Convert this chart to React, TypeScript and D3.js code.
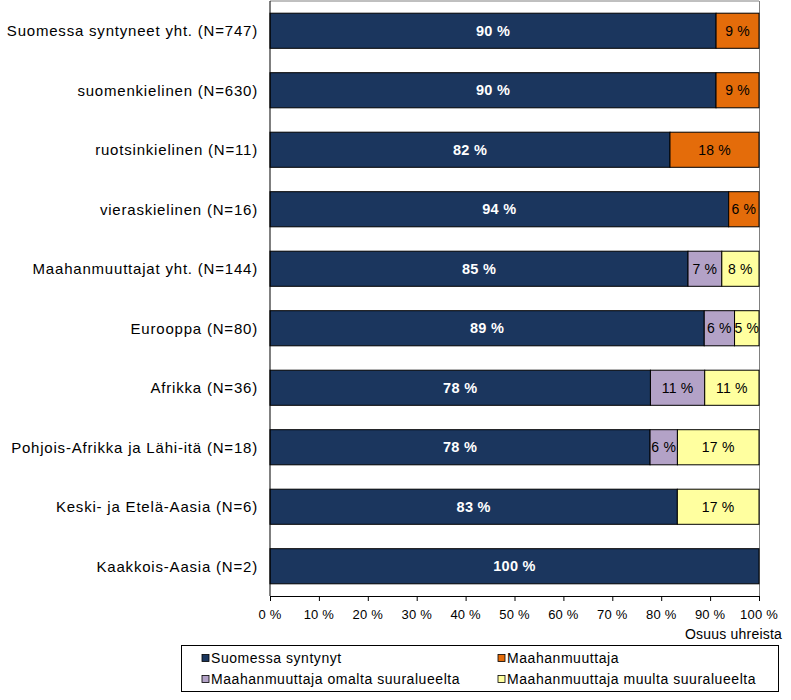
import React from "react";
import * as d3 from "d3";

const categories = [
  "Suomessa syntyneet yht. (N=747)",
  "suomenkielinen (N=630)",
  "ruotsinkielinen (N=11)",
  "vieraskielinen (N=16)",
  "Maahanmuuttajat yht. (N=144)",
  "Eurooppa (N=80)",
  "Afrikka (N=36)",
  "Pohjois-Afrikka ja Lähi-itä (N=18)",
  "Keski- ja Etelä-Aasia (N=6)",
  "Kaakkois-Aasia (N=2)",
];
const seriesNames = [
  "Suomessa syntynyt",
  "Maahanmuuttaja",
  "Maahanmuuttaja omalta suuralueelta",
  "Maahanmuuttaja muulta suuralueelta",
];
const suomessaSyntynyt = [90.4, 90.3, 81.8, 93.8, 85.4, 88.8, 77.8, 77.8, 83.3, 100];
const maahanmuuttaja = [8.7, 8.7, 18.2, 6.2, 0, 0, 0, 0, 0, 0];
const omaltaSuuralueelta = [0, 0, 0, 0, 6.9, 6.2, 11.1, 5.6, 0, 0];
const muultaSuuralueelta = [0, 0, 0, 0, 7.6, 5.0, 11.1, 16.7, 16.7, 0];
const xTicks = [0, 10, 20, 30, 40, 50, 60, 70, 80, 90, 100];
const colors = ["#1B365E", "#E46C0A", "#B3A2C7", "#FFFF9F"];
const labelColors = ["#FFFFFF", "#000000", "#000000", "#000000"];

const font = "'Liberation Sans', Arial, sans-serif";

export default function App() {
  const W = 791;
  const H = 700;
  const left = 270;
  const right = 759;
  const top = 1;
  const bottom = 596;

  const x = d3.scaleLinear().domain([0, 100]).range([left, right]);
  const y = d3.scaleBand().domain(categories).range([top, bottom]).paddingInner(0.41).paddingOuter(0.205);

  const seriesArr = [suomessaSyntynyt, maahanmuuttaja, omaltaSuuralueelta, muultaSuuralueelta];
  const rows = categories.map((c, i) => {
    const vals = seriesArr.map((s) => s[i]);
    const total = d3.sum(vals);
    let acc = 0;
    return vals.map((v, k) => {
      const p0 = (acc / total) * 100;
      acc += v;
      const p1 = (acc / total) * 100;
      return { cat: c, k, v, p0, p1 };
    });
  });

  const legendItems = [
    { k: 0, x: 202, y: 658 },
    { k: 1, x: 498, y: 658 },
    { k: 2, x: 202, y: 679 },
    { k: 3, x: 498, y: 679 },
  ];

  return (
    <svg width={W} height={H} style={{ position: "absolute", left: 0, top: 0, fontFamily: font }}>
      <rect x={0} y={0} width={W} height={H} fill="#fff" />
      {/* plot frame */}
      <line x1={left} x2={right} y1={top} y2={top} stroke="#808080" strokeWidth={1} />
      <line x1={right + 0.5} x2={right + 0.5} y1={top} y2={bottom} stroke="#808080" strokeWidth={1} />
      {/* bars */}
      {rows.map((segs, i) =>
        segs
          .filter((s) => s.v > 0)
          .map((s) => (
            <g key={`${i}-${s.k}`}>
              <rect
                x={x(s.p0)}
                y={y(s.cat)!}
                width={x(s.p1) - x(s.p0)}
                height={y.bandwidth()}
                fill={colors[s.k]}
                stroke="#000"
                strokeWidth={1}
              />
              <text
                x={(x(s.p0) + x(s.p1)) / 2}
                y={y(s.cat)! + y.bandwidth() / 2}
                dy="0.36em"
                textAnchor="middle"
                fontSize={s.k === 0 ? 14.5 : 14}
                fontWeight={s.k === 0 ? "bold" : "normal"}
                letterSpacing={s.k === 0 ? 0.3 : 0.2}
                fill={labelColors[s.k]}
              >
                {`${Math.round(s.v)} %`}
              </text>
            </g>
          ))
      )}
      {/* axes */}
      <line x1={left} x2={left} y1={top} y2={bottom} stroke="#000" strokeWidth={1} />
      <line x1={left} x2={right} y1={bottom + 0.5} y2={bottom + 0.5} stroke="#000" strokeWidth={1} />
      {xTicks.map((t) => (
        <g key={t}>
          <line x1={x(t) + 0.5} x2={x(t) + 0.5} y1={bottom} y2={bottom + 5} stroke="#000" />
          <text x={x(t)} y={bottom + 23} textAnchor="middle" fontSize={13} letterSpacing={0.2} fill="#000">
            {`${t} %`}
          </text>
        </g>
      ))}
      <text x={782} y={639} textAnchor="end" fontSize={14} letterSpacing={0.2} fill="#000">
        Osuus uhreista
      </text>
      {categories.map((c) => (
        <text
          key={c}
          x={258}
          y={y(c)! + y.bandwidth() / 2}
          dy="0.36em"
          textAnchor="end"
          fontSize={15}
          letterSpacing={0.8}
          fill="#000"
        >
          {c}
        </text>
      ))}
      {/* legend */}
      <rect x={181.5} y={645.5} width={597} height={46} fill="#fff" stroke="#000" strokeWidth={1} />
      {legendItems.map((it) => (
        <g key={it.k}>
          <rect x={it.x} y={it.y - 3.5} width={7} height={7} fill={colors[it.k]} stroke="#000" strokeWidth={0.8} />
          <text x={it.x + 9} y={it.y} dy="0.36em" fontSize={14} letterSpacing={0.55} fill="#000">
            {seriesNames[it.k]}
          </text>
        </g>
      ))}
    </svg>
  );
}
